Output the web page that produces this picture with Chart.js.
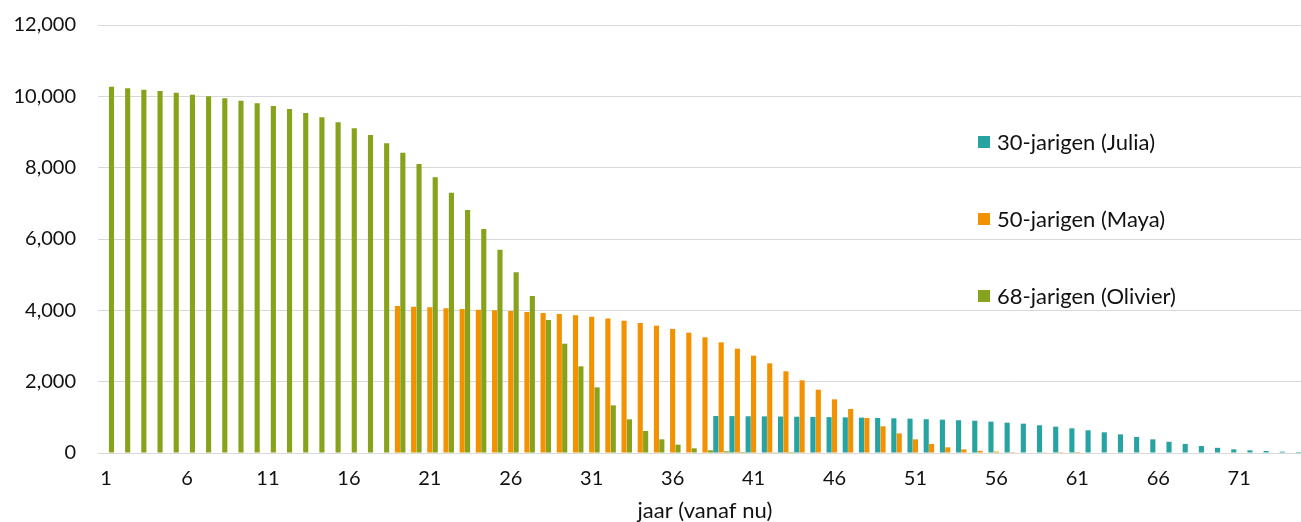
<!DOCTYPE html>
<html>
<head>
<meta charset="utf-8">
<title>jaar (vanaf nu)</title>
<script src="https://cdn.jsdelivr.net/npm/chart.js@4.4.1/dist/chart.umd.min.js"></script>
<style>
  html, body { margin: 0; padding: 0; background: #fff; overflow: hidden; }
  canvas { display: block; }
</style>
</head>
<body>
<canvas id="chart" width="1320" height="522"></canvas>
<script>
// categories: years from now
const years = [
  '1', '2', '3', '4', '5', '6', '7', '8', '9', '10',
  '11', '12', '13', '14', '15', '16', '17', '18', '19', '20',
  '21', '22', '23', '24', '25', '26', '27', '28', '29', '30',
  '31', '32', '33', '34', '35', '36', '37', '38', '39', '40',
  '41', '42', '43', '44', '45', '46', '47', '48', '49', '50',
  '51', '52', '53', '54', '55', '56', '57', '58', '59', '60',
  '61', '62', '63', '64', '65', '66', '67', '68', '69', '70',
  '71', '72', '73', '74', '75'
];

// each series starts in a later year (the year it reaches 68)
const juliaStart = 39;
const juliaValues = [
  1037, 1035, 1030, 1027, 1022, 1018, 1012, 1006, 1000, 992,
  983, 973, 963, 947, 935, 918, 905, 880, 850, 822,
  778, 738, 692, 636, 580, 522, 450, 383, 315, 255,
  195, 145, 103, 75, 56, 37, 28
];

const mayaStart = 19;
const mayaValues = [
  4121, 4100, 4084, 4060, 4040, 4019, 4000, 3981, 3953, 3925,
  3897, 3860, 3822, 3770, 3710, 3645, 3570, 3477, 3374, 3243,
  3103, 2925, 2729, 2514, 2290, 2038, 1775, 1505, 1234, 981,
  748, 551, 383, 252, 159, 103, 60, 40, 25, 14,
  8, 4, 2
];

const olivierStart = 1;
const olivierValues = [
  10270, 10224, 10186, 10150, 10102, 10046, 10000, 9944, 9878, 9804,
  9729, 9645, 9532, 9411, 9271, 9103, 8916, 8683, 8420, 8103,
  7730, 7298, 6813, 6280, 5701, 5066, 4402, 3729, 3065, 2430,
  1841, 1336, 944, 617, 383, 234, 131, 75, 47, 28,
  15, 6, 2
];

const yTicks = [0, 2000, 4000, 6000, 8000, 10000, 12000];

// pad a series with nulls so it lines up with the year categories
function alignToYears(start, values) {
  return years.map((y, i) => {
    const k = i + 1 - start;
    return k >= 0 && k < values.length ? values[k] : null;
  });
}

const FONT = 'Lato, "Open Sans", sans-serif';
const TEXT = '#111';

// legend drawn inside the plot, on the right
const innerLegend = {
  id: 'innerLegend',
  afterDraw(chart) {
    const ctx = chart.ctx;
    const area = chart.chartArea;
    const x = area.left + 880;
    ctx.save();
    ctx.font = '22px ' + FONT;
    ctx.textBaseline = 'middle';
    ctx.textAlign = 'left';
    chart.data.datasets.forEach((ds, i) => {
      const y = area.top + 117 + i * 77;
      ctx.fillStyle = ds.backgroundColor;
      ctx.fillRect(x, y - 6, 12, 12);
      ctx.fillStyle = TEXT;
      ctx.fillText(ds.label, x + 19, y + 1);
    });
    ctx.restore();
  }
};

new Chart(document.getElementById('chart'), {
  type: 'bar',
  data: {
    labels: years,
    datasets: [
      { label: '30-jarigen (Julia)', data: alignToYears(juliaStart, juliaValues), backgroundColor: '#27a3a1' },
      { label: '50-jarigen (Maya)', data: alignToYears(mayaStart, mayaValues), backgroundColor: '#f39200' },
      { label: '68-jarigen (Olivier)', data: alignToYears(olivierStart, olivierValues), backgroundColor: '#87a21b' }
    ]
  },
  options: {
    responsive: false,
    animation: false,
    devicePixelRatio: 1,
    layout: { padding: { top: 25, right: 8, bottom: 0, left: 0 } },
    datasets: {
      bar: { categoryPercentage: 1.0, barPercentage: 0.95 }
    },
    plugins: {
      legend: { display: false },
      tooltip: { enabled: false }
    },
    scales: {
      x: {
        grid: { display: false, drawTicks: false },
        border: { display: false },
        ticks: {
          autoSkip: false,
          maxRotation: 0,
          padding: 14,
          color: TEXT,
          font: { family: FONT, size: 20 },
          callback: function (val, i) {
            return i % 5 === 0 ? this.getLabelForValue(val) : '';
          }
        },
        title: {
          display: true,
          text: 'jaar (vanaf nu)',
          color: TEXT,
          font: { family: FONT, size: 22, lineHeight: 1.0 },
          padding: { top: 2, bottom: 0 }
        },
        afterFit: (scale) => { scale.height = 69; }
      },
      y: {
        min: 0,
        max: 12000,
        afterBuildTicks: (scale) => { scale.ticks = yTicks.map(v => ({ value: v })); },
        grid: { color: '#d9d9d9', lineWidth: 1, drawTicks: false },
        border: { display: false },
        ticks: {
          padding: 22,
          color: TEXT,
          font: { family: FONT, size: 20 },
          callback: (v) => v.toLocaleString('en-US')
        },
        afterFit: (scale) => {
          scale.width = 98;
          scale.paddingTop = 0;
          scale.paddingBottom = 0;
        }
      }
    }
  },
  plugins: [innerLegend]
});
</script>
</body>
</html>
